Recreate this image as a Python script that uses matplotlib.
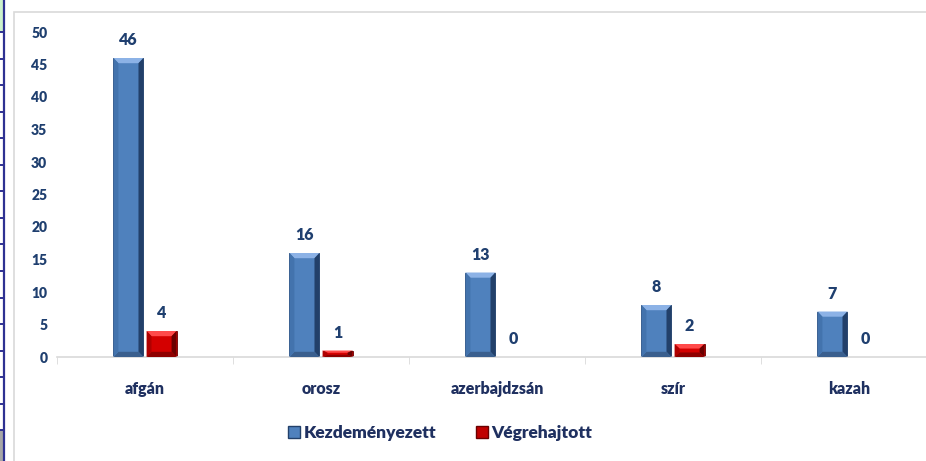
import matplotlib
matplotlib.use("Agg")
import matplotlib.pyplot as plt
from matplotlib.patches import Rectangle
from matplotlib.lines import Line2D
import numpy as np

plt.rcParams['font.family'] = ['Lato', 'DejaVu Sans']
plt.rcParams['font.weight'] = 'heavy'

categories = ['afgán', 'orosz', 'azerbajdzsán', 'szír', 'kazah']
kezdemenyezett = [46, 16, 13, 8, 7]
vegrehajtott = [4, 1, 0, 2, 0]
series_names = ['Kezdeményezett', 'Végrehajtott']
yticks = [0, 5, 10, 15, 20, 25, 30, 35, 40, 45, 50]

W, H = 926, 461
fig = plt.figure(figsize=(W / 100, H / 100), dpi=100)

# chart area frame
fig.add_artist(Rectangle((14 / W, -0.05), 1.0, (H - 12) / H + 0.05,
                         transform=fig.transFigure, fill=False,
                         edgecolor='#D9D9D9', linewidth=1.2))

# strip of the neighbouring table on the left
fig.add_artist(Rectangle((0, (H - 32) / H), 3 / W, 32 / H, transform=fig.transFigure,
                         facecolor='#CCF2CC', edgecolor='none'))
fig.add_artist(Rectangle((0, 0), 3 / W, (H - 430) / H, transform=fig.transFigure,
                         facecolor='#A6A6A6', edgecolor='none'))
fig.add_artist(Line2D([3.5 / W, 3.5 / W], [0, 1], transform=fig.transFigure,
                      color='#2E3192', linewidth=1.6))
for yy in np.arange(32, 440, 26.55):
    fig.add_artist(Line2D([0, 3.5 / W], [(H - yy) / H] * 2, transform=fig.transFigure,
                          color='#2E3192', linewidth=1.4))

ax = fig.add_axes([57 / W, 1 - 357 / H, 880 / W, (357 - 32) / H])

x = np.arange(len(categories))
w = 0.17
gap = 0.018
xb = x - w / 2 - gap / 2
xr = x + w / 2 + gap / 2

def bevel_bars(xs, vals, main, light, side, dark, bottom):
    bars = ax.bar(xs, vals, width=w, color=main, edgecolor=dark, linewidth=0.6, zorder=2)
    sx = 0.028
    for b, v in zip(bars, vals):
        if v <= 0:
            continue
        x0, x1 = b.get_x(), b.get_x() + b.get_width()
        sy = min(0.8, v * 0.35)
        # top, right, bottom and left facets of the bevel
        ax.fill([x0, x1, x1 - sx, x0 + sx], [v, v, v - sy, v - sy],
                color=light, lw=0, zorder=3)
        ax.fill([x1, x1, x1 - sx, x1 - sx], [v, 0, sy, v - sy],
                color=dark, lw=0, zorder=3)
        ax.fill([x0, x1, x1 - sx, x0 + sx], [0, 0, sy, sy],
                color=bottom, lw=0, zorder=3)
        ax.fill([x0, x0, x0 + sx, x0 + sx], [0, v, v - sy, sy],
                color=side, lw=0, zorder=3)

bevel_bars(xb, kezdemenyezett, '#4F81BD', '#8CB2E6', '#4373AD', '#22406A', '#3A5F8E')
bevel_bars(xr, vegrehajtott, '#D40000', '#FF4A4A', '#B00000', '#6A0000', '#8E0000')

label_col = '#1F3F6F'
for xs, vals in ((xb, kezdemenyezett), (xr, vegrehajtott)):
    for xi, v in zip(xs, vals):
        ax.annotate(str(v), (xi, v), xytext=(0, 7), textcoords='offset points',
                    ha='center', va='bottom', fontsize=11.5, fontweight='heavy',
                    color=label_col, annotation_clip=False)

ax.set_xlim(-0.5, len(categories) - 0.5)
ax.set_ylim(0, 50)
ax.set_yticks(yticks)
ax.set_xticks(x)
ax.set_xticklabels(categories, fontsize=11.5, fontweight='heavy', color='#1F3060')
ax.tick_params(axis='x', length=0, pad=17)
ax.tick_params(axis='y', length=0, pad=7, labelsize=10, labelcolor=label_col)
for t in ax.get_yticklabels():
    t.set_fontweight('heavy')

# category boundary ticks on the baseline
ax.set_xticks(np.arange(-0.5, len(categories)), minor=True)
ax.tick_params(axis='x', which='minor', length=5, color='#D9D9D9', direction='out')

for sp in ('left', 'top', 'right'):
    ax.spines[sp].set_visible(False)
ax.spines['bottom'].set_color('#D9D9D9')
ax.spines['bottom'].set_linewidth(1.2)

handles = [Rectangle((0, 0), 1, 1, facecolor='#4F81BD', edgecolor='#22406A'),
           Rectangle((0, 0), 1, 1, facecolor='#C00000', edgecolor='#6A0000')]
fig.legend(handles, series_names, loc='center', bbox_to_anchor=(440 / W, 1 - 433 / H),
           ncol=2, frameon=False, handlelength=0.7, handleheight=0.7,
           handletextpad=0.2, columnspacing=2.3,
           prop={'size': 12.5, 'weight': 'heavy'}, labelcolor='#1F3060')

fig.savefig('out.png', dpi=100)
